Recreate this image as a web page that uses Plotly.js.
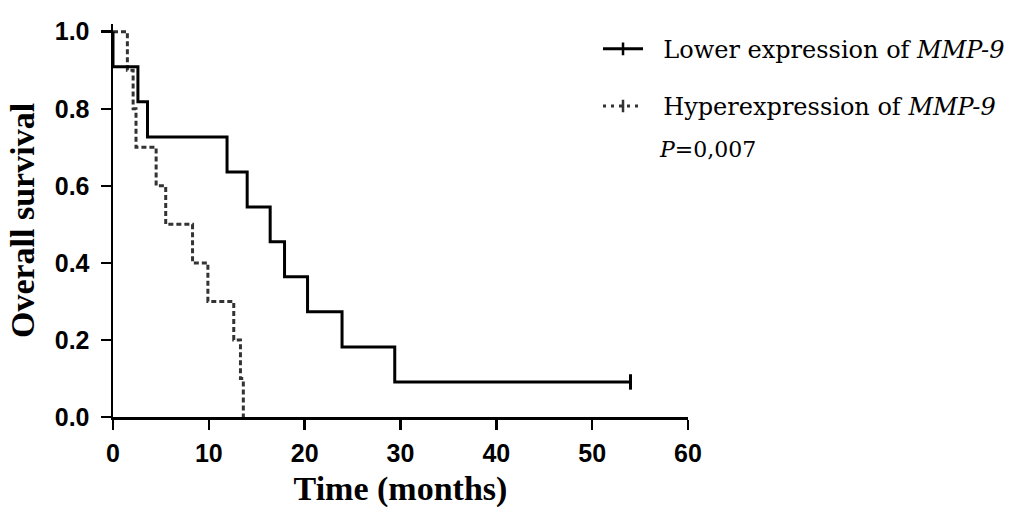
<!DOCTYPE html>
<html>
<head>
<meta charset="utf-8">
<script src="https://cdn.plot.ly/plotly-3.0.1.min.js"></script>
<style>html,body{margin:0;padding:0;background:#fff;}#chart{width:1014px;height:508px;}</style>
</head>
<body>
<div id="chart"></div>
<script>
// Kaplan-Meier step data
var lowTime = [0, 0, 2.6, 3.6, 11.9, 14.0, 16.4, 17.9, 20.3, 23.9, 29.4, 54.0];
var lowSurv = [1.0, 0.909, 0.818, 0.727, 0.636, 0.545, 0.455, 0.364, 0.273, 0.182, 0.091, 0.091];
var lowCensorTime = [54.0];
var lowCensorSurv = [0.091];

var hyperTime = [0, 1.5, 2.1, 2.4, 4.5, 5.5, 8.3, 9.9, 12.6, 13.3, 13.6];
var hyperSurv = [1.0, 0.9, 0.8, 0.7, 0.6, 0.5, 0.4, 0.3, 0.2, 0.1, 0.0];

var xTicks = [0, 10, 20, 30, 40, 50, 60];
var yTicks = [0.0, 0.2, 0.4, 0.6, 0.8, 1.0];
var yTickText = ["0.0", "0.2", "0.4", "0.6", "0.8", "1.0"];

var seriesNames = ["Lower expression of <i>MMP-9</i>", "Hyperexpression of <i>MMP-9</i>"];
var pText = "<i>P</i>=0,007";
var nb = "\u00a0\u00a0";

var traces = [
  {x: hyperTime, y: hyperSurv, mode: "lines", line: {shape: "hv", color: "#333", width: 3, dash: "5px,3px"}, showlegend: false, hoverinfo: "skip"},
  {x: lowTime, y: lowSurv, mode: "lines", line: {shape: "hv", color: "#000", width: 3}, showlegend: false, hoverinfo: "skip"},
  {x: lowCensorTime, y: lowCensorSurv, mode: "markers", marker: {symbol: "line-ns", size: 11, line: {width: 3, color: "#000"}}, showlegend: false, hoverinfo: "skip"},
  {x: [null], y: [null], name: nb + seriesNames[0], mode: "lines+markers", line: {color: "#000", width: 3}, marker: {symbol: "line-ns", size: 9, line: {width: 2.5, color: "#000"}}, legendgroup: "a"},
  {x: [null], y: [null], name: nb + seriesNames[1], mode: "lines+markers", line: {color: "#333", width: 3, dash: "3px,5px"}, marker: {symbol: "line-ns", size: 9, line: {width: 2.5, color: "#333"}}, legendgroup: "b"}
];

var tickFont = {family: "Liberation Sans, Arial, sans-serif", size: 25, color: "#000", weight: "bold"};
var titleFont = {family: "Liberation Serif, Times New Roman, serif", size: 34, color: "#000", weight: "bold"};

var layout = {
  width: 1014, height: 508,
  margin: {l: 113, r: 326, t: 24.3, b: 91.3, pad: 0, autoexpand: false},
  paper_bgcolor: "#fff", plot_bgcolor: "#fff",
  xaxis: {
    range: [0, 60], tickvals: xTicks, ticktext: xTicks.map(String),
    showgrid: false, zeroline: false, showline: true, linecolor: "#000", linewidth: 2.5,
    ticks: "outside", ticklen: 10, tickwidth: 2.5, tickcolor: "#000",
    tickfont: tickFont, ticklabelstandoff: 2,
    title: {text: "Time (months)", font: titleFont, standoff: 15}
  },
  yaxis: {
    range: [0, 1.02], tickvals: yTicks, ticktext: yTickText,
    showgrid: false, zeroline: false, showline: true, linecolor: "#000", linewidth: 2.5,
    ticks: "outside", ticklen: 10, tickwidth: 2.5, tickcolor: "#000",
    tickfont: tickFont, ticklabelstandoff: 6,
    title: {text: "Overall survival", font: titleFont, standoff: 10}
  },
  showlegend: true,
  legend: {
    x: 0.8435, xanchor: "left", y: 0.993, yanchor: "top",
    font: {family: "DejaVu Serif, serif", size: 24, color: "#000"},
    traceorder: "grouped", tracegroupgap: 23, itemwidth: 40,
    bgcolor: "rgba(0,0,0,0)", borderwidth: 0
  },
  annotations: [
    {xref: "paper", yref: "paper", x: 0.9456, y: 0.68, xanchor: "left", yanchor: "middle",
     text: pText, showarrow: false, font: {family: "DejaVu Serif, serif", size: 22, color: "#000"}}
  ]
};

Plotly.newPlot("chart", traces, layout, {displayModeBar: false, staticPlot: true});
</script>
</body>
</html>
